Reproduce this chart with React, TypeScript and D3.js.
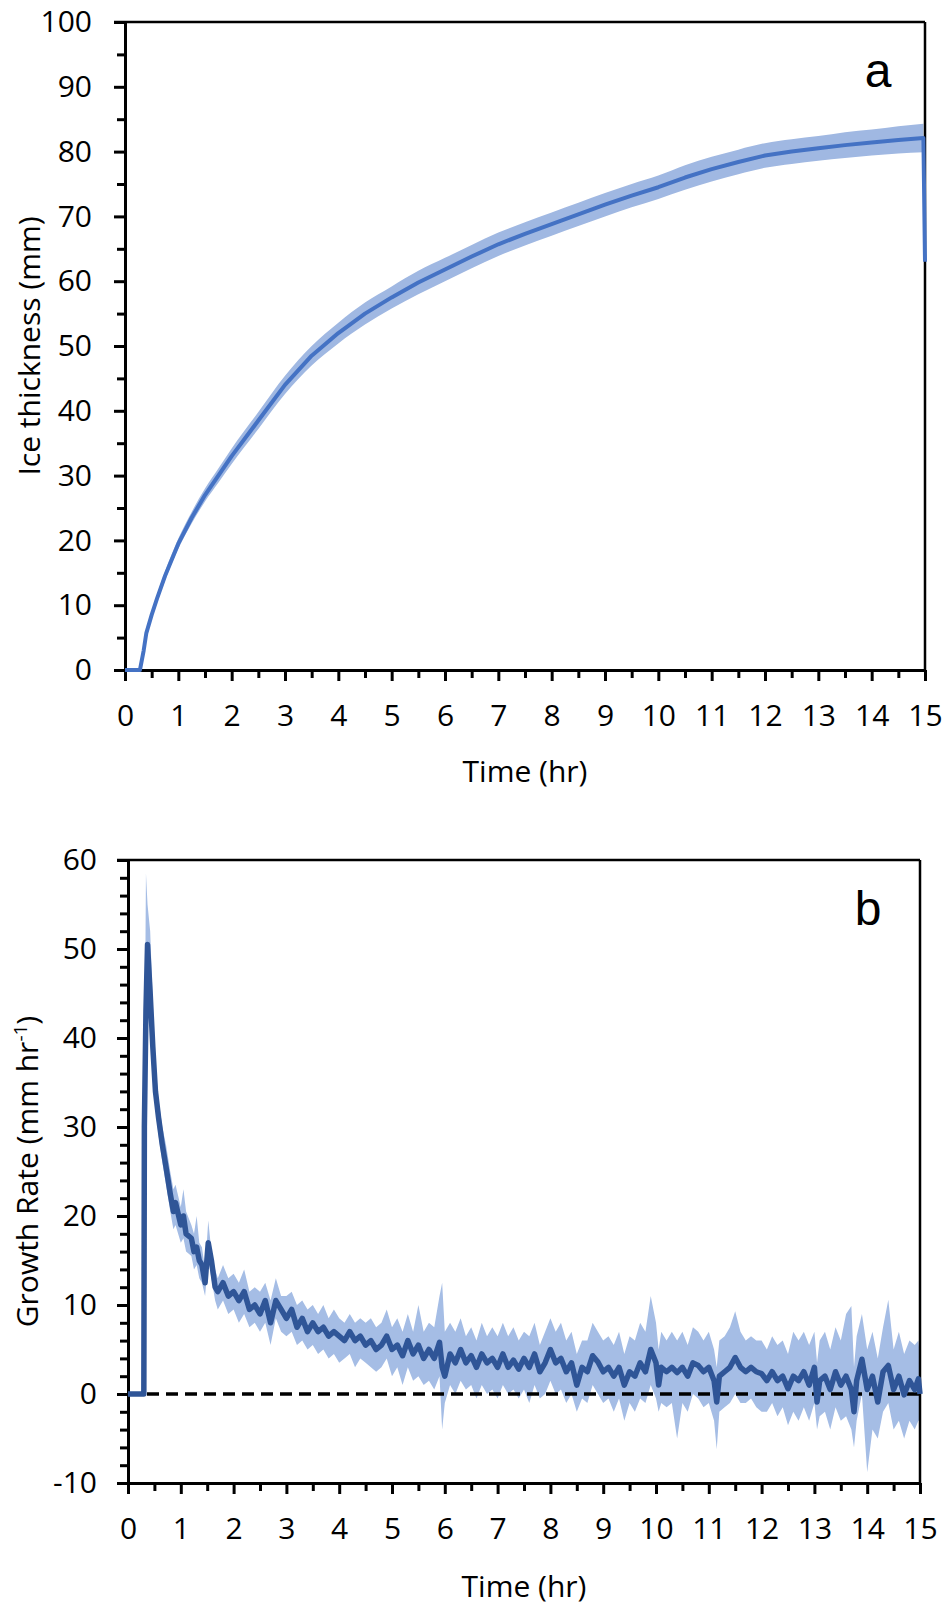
import React, { useEffect, useRef } from "react";
import * as d3 from "d3";

// ---- panel a: ice thickness (mm) ----
const timeA = [0, 0.28, 0.35, 0.4, 0.5, 0.6, 0.75, 1, 1.25, 1.5, 1.75, 2, 2.5, 3, 3.5, 4, 4.5, 5, 5.5, 6, 6.5, 7, 7.5, 8, 8.5, 9, 9.5, 10, 10.5, 11, 11.5, 12, 12.5, 13, 13.5, 14, 14.5, 14.97, 15];
const thickA = [0, 0, 3, 5.7, 8.5, 11, 14.5, 19.5, 23.5, 27, 30, 33, 38.5, 44, 48.5, 52, 55, 57.5, 59.8, 61.8, 63.8, 65.7, 67.3, 68.8, 70.3, 71.8, 73.2, 74.5, 76, 77.3, 78.4, 79.4, 80, 80.5, 81, 81.4, 81.8, 82.1, 63];
const spreadA = [0, 0, 0.3, 0.4, 0.5, 0.6, 0.7, 0.8, 0.9, 1.0, 1.1, 1.2, 1.3, 1.4, 1.5, 1.6, 1.7, 1.7, 1.8, 1.8, 1.8, 1.8, 1.8, 1.8, 1.8, 1.8, 1.8, 1.8, 1.9, 1.9, 1.9, 1.9, 1.9, 1.9, 2.0, 2.0, 2.1, 2.2, 0];

// ---- panel b: growth rate (mm/hr) ----
const timeB = [
  0, 0.1, 0.2, 0.3, 0.31, 0.34, 0.37, 0.42, 0.47, 0.52, 0.58, 0.65, 0.72, 0.8, 0.86, 0.9,
  1.0, 1.05, 1.1, 1.2, 1.25, 1.3, 1.35, 1.4, 1.46, 1.52, 1.58, 1.65, 1.7, 1.8, 1.9,
  2.0, 2.1, 2.2, 2.3, 2.4, 2.5, 2.6, 2.7, 2.8, 2.9,
  3.0, 3.1, 3.2, 3.3, 3.4, 3.5, 3.6, 3.7, 3.8, 3.9,
  4.0, 4.1, 4.2, 4.3, 4.4, 4.5, 4.6, 4.7, 4.8, 4.9,
  5.0, 5.1, 5.2, 5.3, 5.4, 5.5, 5.6, 5.7, 5.8, 5.9, 5.95,
  6.0, 6.1, 6.2, 6.3, 6.4, 6.5, 6.6, 6.7, 6.8, 6.9,
  7.0, 7.1, 7.2, 7.3, 7.4, 7.5, 7.6, 7.7, 7.8, 7.9,
  8.0, 8.1, 8.2, 8.3, 8.4, 8.5, 8.6, 8.7, 8.8, 8.9,
  9.0, 9.1, 9.2, 9.3, 9.4, 9.5, 9.6, 9.7, 9.8, 9.9,
  10.0, 10.05, 10.1, 10.2, 10.3, 10.4, 10.5, 10.6, 10.7, 10.8, 10.9,
  11.0, 11.1, 11.15, 11.2, 11.3, 11.4, 11.5, 11.6, 11.7, 11.8, 11.9,
  12.0, 12.1, 12.2, 12.3, 12.4, 12.5, 12.6, 12.7, 12.8, 12.9,
  13.0, 13.05, 13.1, 13.2, 13.3, 13.4, 13.5, 13.6, 13.7, 13.75, 13.8, 13.9,
  14.0, 14.1, 14.2, 14.3, 14.4, 14.5, 14.6, 14.7, 14.8, 14.9, 14.97, 15.0,
];
const rateB = [
  0, 0, 0, 0, 30, 43, 50.5, 45, 39, 34, 31, 28, 25.5, 22.5, 20.5, 21.5,
  19, 20, 18, 17.5, 16, 16.5, 15, 14.5, 12.5, 17, 15, 12, 11.5, 12.5, 11,
  11.5, 10.5, 11.5, 9.5, 10, 9, 10.5, 8, 10.5, 9.5,
  8.5, 9.5, 7.5, 8.5, 7, 8, 7, 7.5, 6.5, 7,
  6.5, 6, 7, 6, 6.5, 5.5, 6, 5, 5.5, 6.5,
  5, 5.5, 4.3, 6, 4.5, 5.5, 4, 5, 4, 5.8, 3,
  2, 4.5, 3.5, 5, 3.5, 4.3, 3, 4.5, 3.5, 4,
  3, 4.5, 3, 3.8, 2.8, 4, 3, 4.5, 2.5, 3.5,
  5, 3.5, 4, 2.5, 3.5, 1, 3, 2.5, 4.3, 3.6,
  2.5, 3, 2, 3, 1, 2.5, 2, 3.5, 2.5, 5,
  3.5, 1, 3, 2.5, 3, 2.4, 3, 2, 3.5, 3.2, 2.5,
  3, 1.5, -0.9, 2, 2.5, 3, 4.1, 3, 2.5, 3, 2.5,
  2.3, 1.5, 2.5, 1.5, 2, 0.6, 2, 1.5, 2.5, 1,
  3, -0.9, 1.5, 2, 0.5, 2.5, 1, 2, 0.5, -2, 1.5, 3.9,
  0.5, 2, -0.9, 2.5, 3.2, 0.5, 2, -0.1, 1.5, 0.5, 1.7, 0,
];
const lowB = [
  0, 0, 0, 0, 28, 40, 47, 41, 36, 32, 29, 26, 23.5, 20.5, 18.5, 19,
  17, 17.5, 16, 15.5, 14, 14.5, 13, 12.5, 11, 15, 13, 10.5, 9.5, 10.5, 9,
  9.5, 8, 9, 7.5, 8, 7, 8, 5.5, 8.5, 7,
  6.5, 7, 5.5, 6, 5, 5.5, 4.5, 5, 4, 4.5,
  3.5, 4, 4.5, 3, 4, 3.5, 3, 2.5, 3, 4,
  2, 3, 1, 3, 1.5, 2, 1, 1.5, 0.5, 2, -4,
  -1, 1, 0, 1.5, 0.5, 1, -0.5, 1, 0, 0.5,
  -0.5, 1, 0, 0.5, -0.5, 0.5, -1, 1, -0.5, 0,
  1.5, 0, 0.5, -1, 0, -2, -0.5, -1, 1, 0,
  -1, -0.5, -2, -0.5, -3, -1, -2, -0.5, -1, 1,
  -0.5, -2, -1, -1.5, -1, -5, -1, -2, 0, -0.5, -1.5,
  -1, -3, -6.2, -2, -1.5, -1, 0, -1, -1, -0.5, -1.5,
  -2, -2, -1, -2.5, -1.5, -3.5, -2, -3, -1.5, -3,
  -1, -4, -2.5, -2, -4, -1.5, -3, -2.5, -4, -6, -3, 0,
  -8.8, -4, -5, -2, -1, -4, -3, -5, -3, -4, -3, -3,
];
const highB = [
  0, 0, 0, 0, 33, 58.5, 55, 52, 44, 37, 33, 30, 28, 25, 23, 23.5,
  21, 23, 20.5, 19, 18, 20, 17, 16.5, 14, 19.5, 16, 14, 13, 14.5, 13,
  13.5, 12.5, 14, 11.5, 12, 11.5, 12.5, 10.5, 13, 11,
  11, 11.5, 10, 10.5, 9.5, 10, 9, 10, 8.5, 9.5,
  8.5, 8, 9, 8, 8.5, 8, 8.5, 7.5, 8, 9.5,
  7.5, 8.5, 7, 9, 7, 10, 7, 8, 7.5, 11, 12.5,
  7, 8, 7, 8.5, 6.5, 7.5, 6, 8, 6.5, 7.5,
  6.5, 8, 6.5, 7.5, 6, 7, 6.5, 8, 5.5, 7,
  8.5, 7, 8, 6, 7, 4.5, 6, 6, 8, 7,
  6, 6.5, 5.5, 7, 4.5, 6.5, 6, 8, 7, 11,
  8, 5, 7, 6, 7, 6, 7, 5.5, 7.5, 7, 6,
  7, 5, 3, 6, 6.5, 7.5, 9.3, 7, 6, 6.5, 6,
  6, 5, 6.5, 5.5, 6, 4.5, 7, 6, 7, 5.5,
  7, 3.5, 6, 7, 5, 7.5, 6, 9, 9.9, 3, 6.5, 9,
  5, 7, 4, 7.5, 10.6, 5, 7, 4.5, 6, 5.5, 6, 4,
];

const yTicksA = [0, 10, 20, 30, 40, 50, 60, 70, 80, 90, 100];
const yMinorA = [5, 15, 25, 35, 45, 55, 65, 75, 85, 95];
const yTicksB = [-10, 0, 10, 20, 30, 40, 50, 60];
const yMinorB = [-8, -6, -4, -2, 2, 4, 6, 8, 12, 14, 16, 18, 22, 24, 26, 28, 32, 34, 36, 38, 42, 44, 46, 48, 52, 54, 56, 58];
const xTicks = [0, 1, 2, 3, 4, 5, 6, 7, 8, 9, 10, 11, 12, 13, 14, 15];
const xMinor = [0.5, 1.5, 2.5, 3.5, 4.5, 5.5, 6.5, 7.5, 8.5, 9.5, 10.5, 11.5, 12.5, 13.5, 14.5];

const FONT = "'Open Sans', 'DejaVu Sans', sans-serif";

interface PanelSpec {
  left: number;
  right: number;
  top: number;
  bottom: number;
  yDomain: [number, number];
  yTicks: number[];
  yMinor: number[];
  yLabelEnd: number;
}

// plain hyphen for negatives, like the original
const fmt = (d: d3.NumberValue) => String(d);

function drawFrame(svg: d3.Selection<SVGSVGElement, unknown, null, undefined>, p: PanelSpec) {
  const x = d3.scaleLinear().domain([0, 15]).range([p.left, p.right]);
  const y = d3.scaleLinear().domain(p.yDomain).range([p.bottom, p.top]);

  // top and right frame
  svg.append("line").attr("x1", p.left - 11).attr("x2", p.right).attr("y1", p.top).attr("y2", p.top)
    .attr("stroke", "#000").attr("stroke-width", 2.5);
  svg.append("line").attr("x1", p.right).attr("x2", p.right).attr("y1", p.top).attr("y2", p.bottom)
    .attr("stroke", "#000").attr("stroke-width", 2.5);

  const gyMinor = svg.append("g").attr("transform", `translate(${p.left},0)`)
    .call(d3.axisLeft(y).tickValues(p.yMinor).tickSize(8).tickSizeOuter(0).tickFormat(() => ""));
  gyMinor.select(".domain").remove();
  gyMinor.selectAll("line").attr("stroke-width", 3);

  const gy = svg.append("g").attr("transform", `translate(${p.left},0)`)
    .call(d3.axisLeft(y).tickValues(p.yTicks).tickSize(11).tickSizeOuter(0).tickPadding(p.left - p.yLabelEnd - 11).tickFormat(fmt));
  gy.select(".domain").attr("stroke-width", 3);
  gy.selectAll("line").attr("stroke-width", 3);
  gy.selectAll("text").attr("font-family", FONT).attr("font-size", 30).attr("fill", "#000");

  const gxMinor = svg.append("g").attr("transform", `translate(0,${p.bottom})`)
    .call(d3.axisBottom(x).tickValues(xMinor).tickSize(8).tickSizeOuter(0).tickFormat(() => ""));
  gxMinor.select(".domain").remove();
  gxMinor.selectAll("line").attr("stroke-width", 3);

  const gx = svg.append("g").attr("transform", `translate(0,${p.bottom})`)
    .call(d3.axisBottom(x).tickValues(xTicks).tickSize(11).tickSizeOuter(0).tickPadding(24).tickFormat(fmt));
  gx.select(".domain").attr("stroke-width", 3);
  gx.selectAll("line").attr("stroke-width", 3);
  gx.selectAll("text").attr("font-family", FONT).attr("font-size", 30).attr("fill", "#000");

  return { x, y };
}

export default function App() {
  const svgRef = useRef<SVGSVGElement | null>(null);

  useEffect(() => {
    if (!svgRef.current) return;
    const svg = d3.select(svgRef.current);
    svg.selectAll("*").remove();

    // ---------- panel a ----------
    const pa: PanelSpec = { left: 125, right: 925, top: 22, bottom: 670, yDomain: [0, 100], yTicks: yTicksA, yMinor: yMinorA, yLabelEnd: 92 };
    const sa = { x: d3.scaleLinear().domain([0, 15]).range([pa.left, pa.right]), y: d3.scaleLinear().domain(pa.yDomain).range([pa.bottom, pa.top]) };
    const idxA = d3.range(timeA.length);
    const bandIdxA = idxA.slice(0, idxA.length - 1);

    svg.append("path")
      .datum(bandIdxA)
      .attr("d", d3.area<number>()
        .x((i) => sa.x(timeA[i]))
        .y0((i) => sa.y(thickA[i] - spreadA[i]))
        .y1((i) => sa.y(thickA[i] + spreadA[i]))
        .curve(d3.curveMonotoneX))
      .attr("fill", "#a0b8e2");

    drawFrame(svg, pa);

    svg.append("path")
      .datum(idxA)
      .attr("d", d3.line<number>()
        .x((i) => sa.x(timeA[i]))
        .y((i) => sa.y(thickA[i])))
      .attr("fill", "none")
      .attr("stroke", "#4472c4")
      .attr("stroke-width", 4)
      .attr("stroke-linejoin", "round");

    svg.append("text").attr("x", (pa.left + pa.right) / 2).attr("y", 782)
      .attr("text-anchor", "middle").attr("font-family", FONT).attr("font-size", 30).text("Time (hr)");
    svg.append("text").attr("transform", `translate(40,${(pa.top + pa.bottom) / 2}) rotate(-90)`)
      .attr("text-anchor", "middle").attr("font-family", FONT).attr("font-size", 30).text("Ice thickness (mm)");
    svg.append("text").attr("x", 878).attr("y", 87).attr("text-anchor", "middle")
      .attr("font-family", "'Liberation Sans', Arial, sans-serif").attr("font-size", 48).text("a");

    // ---------- panel b ----------
    const pb: PanelSpec = { left: 128, right: 920, top: 860, bottom: 1483, yDomain: [-10, 60], yTicks: yTicksB, yMinor: yMinorB, yLabelEnd: 97 };
    const sb = { x: d3.scaleLinear().domain([0, 15]).range([pb.left, pb.right]), y: d3.scaleLinear().domain(pb.yDomain).range([pb.bottom, pb.top]) };
    const idxB = d3.range(timeB.length);

    svg.append("path")
      .datum(idxB)
      .attr("d", d3.area<number>()
        .x((i) => sb.x(timeB[i]))
        .y0((i) => sb.y(lowB[i]))
        .y1((i) => sb.y(highB[i])))
      .attr("fill", "#a5bde5");

    drawFrame(svg, pb);

    svg.append("line")
      .attr("x1", pb.left).attr("x2", pb.right)
      .attr("y1", sb.y(0)).attr("y2", sb.y(0))
      .attr("stroke", "#000").attr("stroke-width", 3.5).attr("stroke-dasharray", "12,7");

    svg.append("path")
      .datum(idxB)
      .attr("d", d3.line<number>()
        .x((i) => sb.x(timeB[i]))
        .y((i) => sb.y(rateB[i])))
      .attr("fill", "none")
      .attr("stroke", "#2f5597")
      .attr("stroke-width", 5.5)
      .attr("stroke-linejoin", "round");

    svg.append("text").attr("x", (pb.left + pb.right) / 2).attr("y", 1597)
      .attr("text-anchor", "middle").attr("font-family", FONT).attr("font-size", 30).text("Time (hr)");
    const yl = svg.append("text").attr("transform", `translate(38,${(pb.top + pb.bottom) / 2}) rotate(-90)`)
      .attr("text-anchor", "middle").attr("font-family", FONT).attr("font-size", 30);
    yl.append("tspan").text("Growth Rate (mm hr");
    yl.append("tspan").attr("font-size", 19).attr("dy", -11).text("-1");
    yl.append("tspan").attr("dy", 11).text(")");
    svg.append("text").attr("x", 868).attr("y", 925).attr("text-anchor", "middle")
      .attr("font-family", "'Liberation Sans', Arial, sans-serif").attr("font-size", 48).text("b");
  }, []);

  return (
    <svg
      ref={svgRef}
      width={950}
      height={1611}
      style={{ position: "absolute", left: 0, top: 0, background: "#fff", display: "block" }}
    />
  );
}
